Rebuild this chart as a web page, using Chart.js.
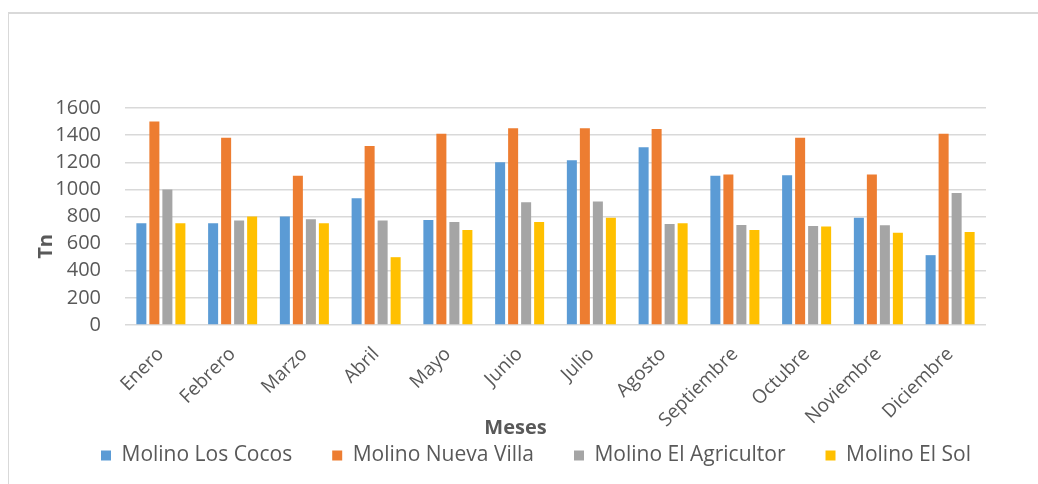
<!DOCTYPE html>
<html>
<head>
<meta charset="utf-8">
<script src="https://cdn.jsdelivr.net/npm/chart.js@4.4.1/dist/chart.umd.min.js"></script>
<style>
  html, body { margin: 0; padding: 0; background: #ffffff; overflow: hidden; }
  #wrap { position: relative; width: 1038px; height: 484px; }
  #frame { position: absolute; left: 8px; top: 12px; width: 1100px; height: 600px;
           border-left: 1px solid #d9d9d9; border-top: 2px solid #d9d9d9; box-sizing: border-box; }
  canvas { position: absolute; left: 0; top: 0; }
</style>
</head>
<body>
<div id="wrap">
  <div id="frame"></div>
  <canvas id="c" width="1038" height="484"></canvas>
</div>
<script>
// Monthly production (Tn) per mill
const months = ["Enero", "Febrero", "Marzo", "Abril", "Mayo", "Junio", "Julio",
                "Agosto", "Septiembre", "Octubre", "Noviembre", "Diciembre"];
const seriesNames = ["Molino Los Cocos", "Molino Nueva Villa", "Molino El Agricultor", "Molino El Sol"];
const losCocos     = [750, 750, 800, 935, 775, 1200, 1215, 1310, 1100, 1105, 790, 515];
const nuevaVilla   = [1500, 1380, 1100, 1320, 1410, 1450, 1450, 1445, 1110, 1380, 1110, 1410];
const elAgricultor = [1000, 770, 780, 770, 760, 905, 910, 745, 737, 730, 735, 973];
const elSol        = [750, 800, 750, 500, 700, 760, 790, 750, 700, 727, 680, 685];
const yTicks = [0, 200, 400, 600, 800, 1000, 1200, 1400, 1600];
const colors = ["#5B9BD5", "#ED7D31", "#A5A5A5", "#FFC000"];

const textColor = "#595959";
Chart.defaults.font.family = "'Open Sans', 'Liberation Sans', sans-serif";
Chart.defaults.color = textColor;

const seriesValues = [losCocos, nuevaVilla, elAgricultor, elSol];
const datasets = seriesNames.map((name, i) => ({
  label: name,
  data: seriesValues[i],
  backgroundColor: colors[i],
  borderWidth: 0,
  categoryPercentage: 0.725,
  barPercentage: 0.77
}));

// Places the legend row under the axis title, starting near the left edge
const legendPlacement = {
  id: "legendPlacement",
  afterLayout(chart) {
    const lg = chart.legend;
    lg.left = 61;
    lg.right = chart.width;
    lg.top = 405;
  }
};

new Chart(document.getElementById("c"), {
  type: "bar",
  data: { labels: months, datasets },
  plugins: [legendPlacement],
  options: {
    responsive: false,
    animation: false,
    devicePixelRatio: 1,
    layout: { padding: { top: 108, right: 52, bottom: 0, left: 20 } },
    plugins: {
      tooltip: { enabled: false },
      legend: {
        position: "bottom",
        align: "start",
        maxHeight: 44,
        labels: {
          boxWidth: 10,
          boxHeight: 10,
          padding: 40,
          color: textColor,
          font: { size: 21 }
        }
      }
    },
    scales: {
      x: {
        grid: { display: false },
        border: { display: false },
        ticks: {
          color: textColor,
          font: { size: 19 },
          minRotation: 45,
          maxRotation: 45,
          padding: 10,
          autoSkip: false
        },
        title: {
          display: true,
          text: "Meses\u2003\u2003\u2003\u2003",
          color: textColor,
          font: { size: 20, weight: "bold" },
          padding: { top: 8, bottom: 0 }
        },
        afterFit(scale) { scale.height = 115; }
      },
      y: {
        min: 0,
        max: 1600,
        afterBuildTicks(scale) { scale.ticks = yTicks.map(v => ({ value: v })); },
        grid: { color: "#d9d9d9", lineWidth: 1.5, drawTicks: false },
        border: { display: false },
        ticks: {
          color: textColor,
          font: { size: 20 },
          padding: 24,
          callback: (value) => String(value)
        },
        title: {
          display: true,
          text: "Tn\u2003\u2003\u2003",
          color: textColor,
          font: { size: 20, weight: "bold" },
          padding: { top: 14, bottom: 0 }
        },
        afterFit(scale) { scale.width = 105; }
      }
    }
  }
});
</script>
</body>
</html>
